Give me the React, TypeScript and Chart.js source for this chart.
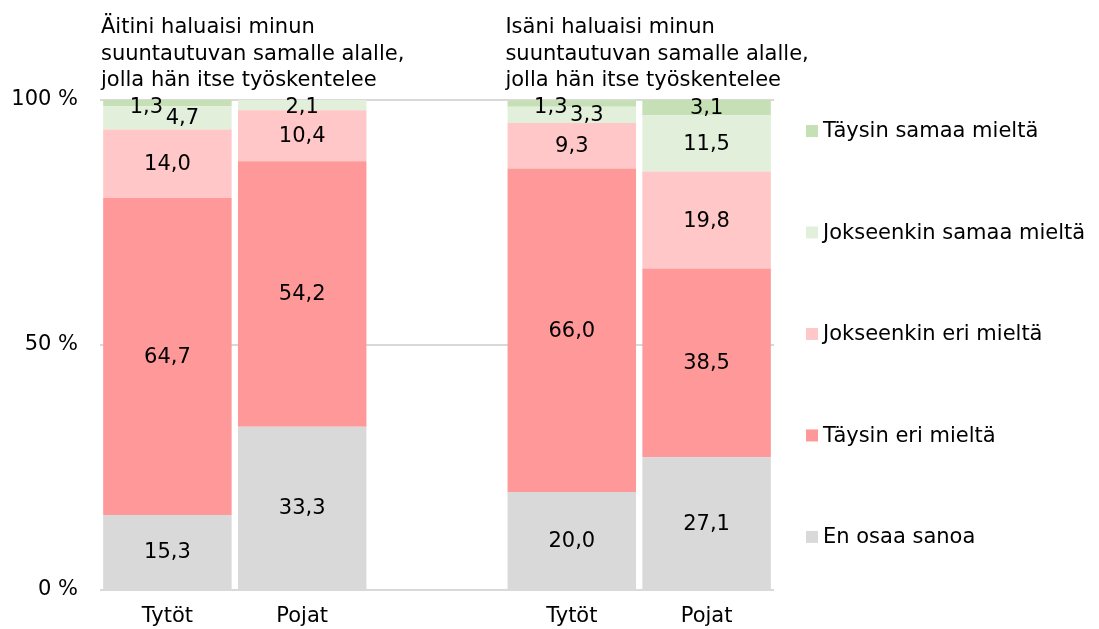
import React, { useEffect, useRef } from "react";
import { Chart, registerables } from "chart.js";

Chart.register(...registerables);

const categories = ["Tytöt", "Pojat", "", "Tytöt", "Pojat"];
const seriesNames = [
  "En osaa sanoa",
  "Täysin eri mieltä",
  "Jokseenkin eri mieltä",
  "Jokseenkin samaa mieltä",
  "Täysin samaa mieltä",
];
const enOsaa = [15.3, 33.3, null, 20.0, 27.1];
const taysinEri = [64.7, 54.2, null, 66.0, 38.5];
const jokseenkinEri = [14.0, 10.4, null, 9.3, 19.8];
const jokseenkinSamaa = [4.7, 2.1, null, 3.3, 11.5];
const taysinSamaa = [1.3, 0, null, 1.3, 3.1];
const seriesColors = ["#D9D9D9", "#FF9999", "#FFC7C7", "#E2EFDA", "#C5E0B4"];
const yTicks = [0, 50, 100];
const groupTitles = [
  { at: 0, lines: ["Äitini haluaisi minun", "suuntautuvan samalle alalle,", "jolla hän itse työskentelee"] },
  { at: 3, lines: ["Isäni haluaisi minun", "suuntautuvan samalle alalle,", "jolla hän itse työskentelee"] },
];

const FONT = "DejaVu Sans";
const FS = 21;

const fmt = (v: number) => v.toFixed(1).replace(".", ",");

const labelsPlugin = {
  id: "segLabels",
  afterDatasetsDraw(chart: any) {
    const ctx = chart.ctx;
    const area = chart.chartArea;
    const ds = chart.data.datasets;
    const n = ds.length;
    ctx.save();
    ctx.font = `${FS}px "${FONT}"`;
    ctx.fillStyle = "#000";
    ctx.textAlign = "center";
    ctx.textBaseline = "middle";
    for (let d = 0; d < n; d++) {
      const meta = chart.getDatasetMeta(d);
      meta.data.forEach((el: any, i: number) => {
        const v = ds[d].data[i];
        if (v == null || v <= 0) return;
        let x = el.x;
        let y = (el.y + el.base) / 2;
        const vTop = ds[n - 1].data[i];
        const vBelow = ds[n - 2].data[i];
        const crowded = vTop > 0 && vTop < 2 && vBelow > 0 && vBelow < 6;
        if (crowded && d === n - 1) x -= 21;
        if (crowded && d === n - 2) x += 15;
        if (y < area.top + 7) y = area.top + 7;
        ctx.fillText(fmt(v), x, y + 1);
      });
    }
    ctx.restore();
  },
};

const decorPlugin = {
  id: "decor",
  afterDraw(chart: any) {
    const ctx = chart.ctx;
    const area = chart.chartArea;
    const xs = chart.scales.x;
    const catW = area.width / chart.data.labels.length;
    ctx.save();
    ctx.font = `${FS}px "${FONT}"`;
    ctx.fillStyle = "#000";
    ctx.textAlign = "left";
    ctx.textBaseline = "alphabetic";
    groupTitles.forEach((g) => {
      const left = xs.getPixelForValue(g.at) - catW / 2;
      g.lines.forEach((line, k) => {
        ctx.fillText(line, left + 1, area.top - 67 + k * 26.5);
      });
    });
    // legend (reversed order)
    const ds = chart.data.datasets;
    const step = area.height * 0.2071;
    ctx.textBaseline = "middle";
    for (let k = 0; k < ds.length; k++) {
      const d = ds[ds.length - 1 - k];
      const cy = area.top + 31 + k * step;
      ctx.fillStyle = d.backgroundColor;
      ctx.fillRect(area.right + 32, cy - 6, 12, 12);
      ctx.fillStyle = "#000";
      ctx.fillText(d.label, area.right + 49, cy + 1);
    }
    ctx.restore();
  },
};

export default function App() {
  const ref = useRef<HTMLCanvasElement | null>(null);
  useEffect(() => {
    document.body.style.margin = "0";
    if (!ref.current) return;
    Chart.defaults.font.family = FONT;
    const seriesData = [enOsaa, taysinEri, jokseenkinEri, jokseenkinSamaa, taysinSamaa];
    const chart = new Chart(ref.current, {
      type: "bar",
      data: {
        labels: categories,
        datasets: seriesData.map((data, i) => ({
          label: seriesNames[i],
          data: data as any,
          backgroundColor: seriesColors[i],
          borderWidth: 0,
          barPercentage: 0.953,
          categoryPercentage: 1,
        })),
      },
      options: {
        responsive: true,
        maintainAspectRatio: false,
        animation: false,
        layout: { padding: { top: 100, right: 325, left: 0, bottom: 0 } },
        plugins: { legend: { display: false }, tooltip: { enabled: false } },
        scales: {
          x: {
            stacked: true,
            grid: { display: false, drawTicks: false },
            border: { display: false },
            ticks: { color: "#000", font: { size: FS, family: FONT }, padding: 14, maxRotation: 0 },
            afterFit: (s: any) => { s.height = 39; },
          },
          y: {
            stacked: true,
            min: 0,
            max: 100,
            afterBuildTicks: (s: any) => { s.ticks = yTicks.map((v) => ({ value: v })); },
            ticks: {
              color: "#000",
              font: { size: FS, family: FONT },
              padding: 22,
              callback: (v: any) => `${v} %`,
            },
            grid: { color: "#D9D9D9", lineWidth: 2, drawTicks: false },
            border: { display: false },
            afterFit: (s: any) => { s.width = 100; },
          },
        },
      },
      plugins: [labelsPlugin, decorPlugin],
    });
    return () => chart.destroy();
  }, []);
  return (
    <div style={{ width: 1099, height: 629, position: "relative" }}>
      <canvas ref={ref} />
    </div>
  );
}
